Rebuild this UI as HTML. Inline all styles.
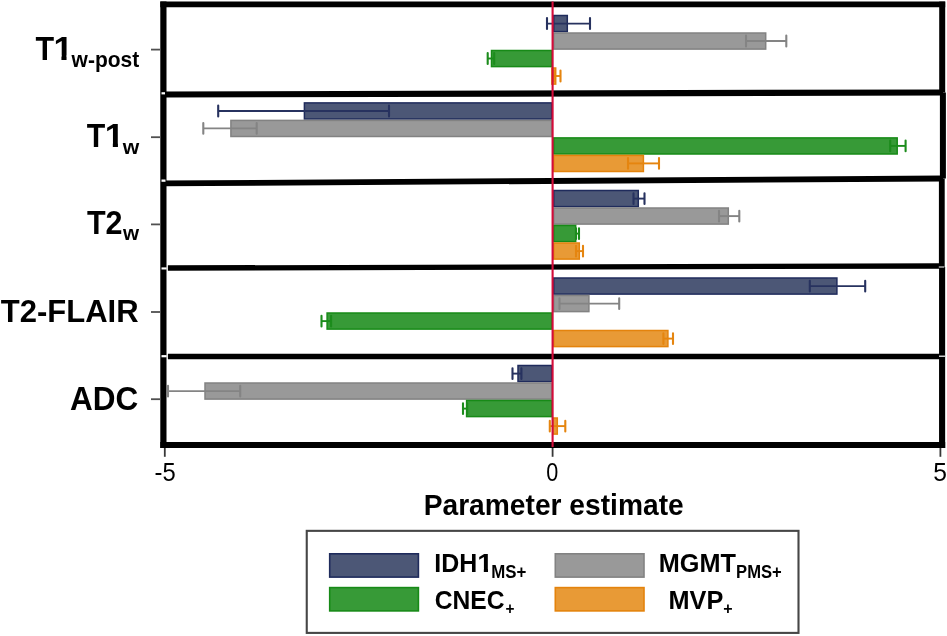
<!DOCTYPE html>
<html lang="en"><head><meta charset="utf-8"><title>Parameter estimate</title>
<style>
html,body{margin:0;padding:0;background:#fff;}
body{width:947px;height:636px;overflow:hidden;position:relative;font-family:"Liberation Sans",Arial,Helvetica,sans-serif;}
svg{position:absolute;left:0;top:0;display:block;}
text{font-family:"Liberation Sans",Arial,Helvetica,sans-serif;fill:#000;}
.b{font-weight:bold;}
</style></head><body>
<svg width="947" height="636" viewBox="0 0 947 636">
<rect x="0" y="0" width="947" height="636" fill="#fff"/>

<g>
<rect x="553.7" y="15.5" width="13.6" height="16.1" fill="#4c5776" stroke="#1f2b5c" stroke-width="1.5"/>
<path d="M547.0 23.6H590.0" stroke="#27325f" stroke-width="1.9" fill="none"/>
<path d="M547.0 18.1V29.0M590.0 18.1V29.0" stroke="#27325f" stroke-width="2.1" stroke-linecap="round" fill="none"/>
<rect x="553.7" y="33.0" width="212.0" height="16.1" fill="#999999" stroke="#828282" stroke-width="1.5"/>
<path d="M746.0 41.0H786.3" stroke="#848484" stroke-width="1.9" fill="none"/>
<path d="M746.0 35.6V46.4M786.3 35.6V46.4" stroke="#848484" stroke-width="2.1" stroke-linecap="round" fill="none"/>
<rect x="491.5" y="50.5" width="60.2" height="16.1" fill="#379a37" stroke="#178a17" stroke-width="1.5"/>
<path d="M487.7 58.5H494.2" stroke="#1c8c1c" stroke-width="1.9" fill="none"/>
<path d="M487.7 53.1V63.9M494.2 53.1V63.9" stroke="#1c8c1c" stroke-width="2.1" stroke-linecap="round" fill="none"/>
<rect x="551.9" y="68.0" width="3.8" height="16.1" fill="#e89a36" stroke="#e4830c" stroke-width="1.5"/>
<path d="M553.7 76.0H560.5" stroke="#e5850f" stroke-width="1.9" fill="none"/>
<path d="M553.7 70.6V81.5M560.5 70.6V81.5" stroke="#e5850f" stroke-width="2.1" stroke-linecap="round" fill="none"/>
<rect x="304.4" y="102.9" width="247.3" height="16.1" fill="#4c5776" stroke="#1f2b5c" stroke-width="1.5"/>
<path d="M218.2 111.0H389.0" stroke="#27325f" stroke-width="1.9" fill="none"/>
<path d="M218.2 105.5V116.4M389.0 105.5V116.4" stroke="#27325f" stroke-width="2.1" stroke-linecap="round" fill="none"/>
<rect x="230.9" y="120.4" width="320.8" height="16.1" fill="#999999" stroke="#828282" stroke-width="1.5"/>
<path d="M203.3 128.4H256.7" stroke="#848484" stroke-width="1.9" fill="none"/>
<path d="M203.3 123.0V133.8M256.7 123.0V133.8" stroke="#848484" stroke-width="2.1" stroke-linecap="round" fill="none"/>
<rect x="553.7" y="137.9" width="343.5" height="16.1" fill="#379a37" stroke="#178a17" stroke-width="1.5"/>
<path d="M890.2 145.9H905.6" stroke="#1c8c1c" stroke-width="1.9" fill="none"/>
<path d="M890.2 140.5V151.3M905.6 140.5V151.3" stroke="#1c8c1c" stroke-width="2.1" stroke-linecap="round" fill="none"/>
<rect x="553.7" y="155.4" width="89.7" height="16.1" fill="#e89a36" stroke="#e4830c" stroke-width="1.5"/>
<path d="M628.0 163.4H659.0" stroke="#e5850f" stroke-width="1.9" fill="none"/>
<path d="M628.0 158.0V168.8M659.0 158.0V168.8" stroke="#e5850f" stroke-width="2.1" stroke-linecap="round" fill="none"/>
<rect x="553.7" y="190.5" width="84.6" height="16.1" fill="#4c5776" stroke="#1f2b5c" stroke-width="1.5"/>
<path d="M633.5 198.6H644.5" stroke="#27325f" stroke-width="1.9" fill="none"/>
<path d="M633.5 193.2V204.0M644.5 193.2V204.0" stroke="#27325f" stroke-width="2.1" stroke-linecap="round" fill="none"/>
<rect x="553.7" y="208.0" width="174.6" height="16.1" fill="#999999" stroke="#828282" stroke-width="1.5"/>
<path d="M719.0 216.1H739.3" stroke="#848484" stroke-width="1.9" fill="none"/>
<path d="M719.0 210.7V221.5M739.3 210.7V221.5" stroke="#848484" stroke-width="2.1" stroke-linecap="round" fill="none"/>
<rect x="553.7" y="225.5" width="22.0" height="16.1" fill="#379a37" stroke="#178a17" stroke-width="1.5"/>
<path d="M576.0 233.6H579.0" stroke="#1c8c1c" stroke-width="1.9" fill="none"/>
<path d="M576.0 228.2V239.0M579.0 228.2V239.0" stroke="#1c8c1c" stroke-width="2.1" stroke-linecap="round" fill="none"/>
<rect x="553.7" y="243.0" width="25.6" height="16.1" fill="#e89a36" stroke="#e4830c" stroke-width="1.5"/>
<path d="M576.0 251.1H583.0" stroke="#e5850f" stroke-width="1.9" fill="none"/>
<path d="M576.0 245.7V256.4M583.0 245.7V256.4" stroke="#e5850f" stroke-width="2.1" stroke-linecap="round" fill="none"/>
<rect x="553.7" y="278.0" width="283.2" height="16.1" fill="#4c5776" stroke="#1f2b5c" stroke-width="1.5"/>
<path d="M809.8 286.1H865.2" stroke="#27325f" stroke-width="1.9" fill="none"/>
<path d="M809.8 280.7V291.4M865.2 280.7V291.4" stroke="#27325f" stroke-width="2.1" stroke-linecap="round" fill="none"/>
<rect x="553.7" y="295.5" width="35.2" height="16.1" fill="#999999" stroke="#828282" stroke-width="1.5"/>
<path d="M559.5 303.6H619.2" stroke="#848484" stroke-width="1.9" fill="none"/>
<path d="M559.5 298.2V308.9M619.2 298.2V308.9" stroke="#848484" stroke-width="2.1" stroke-linecap="round" fill="none"/>
<rect x="327.1" y="313.0" width="224.6" height="16.1" fill="#379a37" stroke="#178a17" stroke-width="1.5"/>
<path d="M321.5 321.1H331.1" stroke="#1c8c1c" stroke-width="1.9" fill="none"/>
<path d="M321.5 315.7V326.4M331.1 315.7V326.4" stroke="#1c8c1c" stroke-width="2.1" stroke-linecap="round" fill="none"/>
<rect x="553.7" y="330.5" width="114.2" height="16.1" fill="#e89a36" stroke="#e4830c" stroke-width="1.5"/>
<path d="M663.4 338.6H673.0" stroke="#e5850f" stroke-width="1.9" fill="none"/>
<path d="M663.4 333.2V343.9M673.0 333.2V343.9" stroke="#e5850f" stroke-width="2.1" stroke-linecap="round" fill="none"/>
<rect x="518.0" y="365.5" width="33.7" height="16.1" fill="#4c5776" stroke="#1f2b5c" stroke-width="1.5"/>
<path d="M512.5 373.6H521.4" stroke="#27325f" stroke-width="1.9" fill="none"/>
<path d="M512.5 368.2V378.9M521.4 368.2V378.9" stroke="#27325f" stroke-width="2.1" stroke-linecap="round" fill="none"/>
<rect x="205.0" y="383.0" width="346.7" height="16.1" fill="#999999" stroke="#828282" stroke-width="1.5"/>
<path d="M168.0 391.1H240.2" stroke="#848484" stroke-width="1.9" fill="none"/>
<path d="M168.0 385.7V396.4M240.2 385.7V396.4" stroke="#848484" stroke-width="2.1" stroke-linecap="round" fill="none"/>
<rect x="466.6" y="400.5" width="85.1" height="16.1" fill="#379a37" stroke="#178a17" stroke-width="1.5"/>
<path d="M463.0 408.6H467.2" stroke="#1c8c1c" stroke-width="1.9" fill="none"/>
<path d="M463.0 403.2V413.9M467.2 403.2V413.9" stroke="#1c8c1c" stroke-width="2.1" stroke-linecap="round" fill="none"/>
<rect x="552.7" y="418.0" width="4.6" height="16.1" fill="#e89a36" stroke="#e4830c" stroke-width="1.5"/>
<path d="M549.8 426.1H565.3" stroke="#e5850f" stroke-width="1.9" fill="none"/>
<path d="M549.8 420.7V431.4M565.3 420.7V431.4" stroke="#e5850f" stroke-width="2.1" stroke-linecap="round" fill="none"/>
</g>
<g stroke="#000" fill="none" stroke-linecap="butt">
<path d="M160.3 4.4H945.2" stroke-width="5.6"/>
<path d="M163.4 1.6V448.1" stroke-width="6.2"/>
<path d="M942.2 1.6V92.5" stroke-width="6"/>
<path d="M942.9 92.5V178.5" stroke-width="6"/>
<path d="M941.8 178.5V267" stroke-width="5.8"/>
<path d="M942.1 267V448.1" stroke-width="6.1"/>
<path d="M160.3 445H945.2" stroke-width="6.2"/>
<path d="M163 94.5L943 92.5" stroke-width="6.2"/>
<path d="M163 183.4L943 178.5" stroke-width="5.8"/>
<path d="M167.9 268L943 266" stroke-width="5.3"/>
<path d="M167.9 356.5H943" stroke-width="5.6"/>
</g>
<g fill="#fff"><rect x="161.5" y="92.2" width="3.5" height="2.2"/><rect x="161.5" y="179.5" width="4" height="2.3"/><rect x="161.5" y="267.4" width="5.2" height="2.1"/><rect x="161.5" y="355.1" width="5.2" height="2.2"/><rect x="938.8" y="266.5" width="5.5" height="1"/><rect x="939" y="355.6" width="6" height="1.2"/></g>
<path d="M552.6 1.5V447" stroke="#d40c3a" stroke-width="2.1" fill="none"/>
<g stroke="#505050" stroke-width="1.8" fill="none">
<path d="M151 49.6H160.5"/>
<path d="M151 137.2H160.5"/>
<path d="M151 224.4H160.5"/>
<path d="M151 312H160.5"/>
<path d="M151 399.2H160.5"/>
<path d="M164.8 448V456.8" stroke="#383838"/>
<path d="M552.6 448V456.8" stroke="#383838"/>
<path d="M940.4 448V456.8" stroke="#383838"/>
</g>
<defs><clipPath id="c32"><polygon points="0.00,-26.00 20.00,-26.00 20.00,-4.40 11.95,-4.40 11.95,1.00 7.30,1.00 7.30,-4.40 0.00,-4.40"/></clipPath><clipPath id="c26"><polygon points="0.00,-21.12 16.25,-21.12 16.25,-3.58 9.71,-3.58 9.71,0.81 5.93,0.81 5.93,-3.58 0.00,-3.58"/></clipPath></defs>
<rect x="306.75" y="530.85" width="491.75" height="102.05" fill="#fff" stroke="#464646" stroke-width="2.1"/>
<rect x="329.7" y="553.8" width="88.7" height="23.3" fill="#4c5776" stroke="#1f2b5c" stroke-width="1.6"/>
<rect x="329.7" y="587.6" width="88.7" height="23.3" fill="#379a37" stroke="#178a17" stroke-width="1.6"/>
<rect x="555.3" y="553.8" width="88.7" height="23.3" fill="#999999" stroke="#828282" stroke-width="1.6"/>
<rect x="555.3" y="587.6" width="88.7" height="23.3" fill="#e89a36" stroke="#e4830c" stroke-width="1.6"/>
<text class="b" font-size="32" transform="matrix(0.9526 0 0 1.0227 35.56 60.10)">T</text>
<text class="b" font-size="32" clip-path="url(#c32)" transform="matrix(1.1000 0 0 1.0300 53.40 60.10)">1</text>
<text class="b" font-size="22" transform="matrix(0.9546 0 0 1.0347 71.60 66.94)">w-post</text>
<text class="b" font-size="32" transform="matrix(0.9474 0 0 1.0318 86.76 147.00)">T</text>
<text class="b" font-size="32" clip-path="url(#c32)" transform="matrix(1.1000 0 0 1.0300 104.80 147.00)">1</text>
<text class="b" font-size="21" transform="matrix(1.0092 0 0 1.0000 122.70 153.60)">w</text>
<text class="b" font-size="32" transform="matrix(0.9538 0 0 1.0112 86.96 234.00)">T2</text>
<text class="b" font-size="21" transform="matrix(0.9846 0 0 1.0000 123.10 240.40)">w</text>
<text class="b" font-size="32" transform="matrix(0.9692 0 0 1.0067 0.76 322.00)">T2-FLAIR</text>
<text class="b" font-size="32" transform="matrix(0.9845 0 0 1.0356 70.06 410.24)">ADC</text>
<text font-size="26" transform="matrix(0.9157 0 0 1.0056 154.56 480.95)">-5</text>
<text font-size="26" transform="matrix(0.8320 0 0 0.9753 546.17 480.56)">0</text>
<text font-size="26" transform="matrix(0.9469 0 0 1.0000 933.15 480.85)">5</text>
<text class="b" font-size="28" transform="matrix(1.0067 0 0 1.0286 423.69 514.80)">Parameter estimate</text>
<text class="b" font-size="26" transform="matrix(0.9600 0 0 1.0028 434.32 572.20)">IDH</text>
<text class="b" font-size="26" clip-path="url(#c26)" transform="matrix(1.1000 0 0 1.0000 477.30 572.20)">1</text>
<text class="b" font-size="17" transform="matrix(0.9910 0 0 1.0333 491.16 577.54)">MS+</text>
<text class="b" font-size="26" transform="matrix(0.9477 0 0 0.9863 434.65 609.15)">CNEC</text>
<text class="b" font-size="16" transform="matrix(0.9625 0 0 0.9750 505.58 614.12)">+</text>
<text class="b" font-size="26" transform="matrix(0.9716 0 0 0.9973 658.80 572.35)">MGMT</text>
<text class="b" font-size="17" transform="matrix(0.9765 0 0 1.0333 736.08 577.54)">PMS+</text>
<text class="b" font-size="26" transform="matrix(0.9730 0 0 1.0028 668.50 609.10)">MVP</text>
<text class="b" font-size="16" transform="matrix(1.0000 0 0 1.0000 723.35 614.35)">+</text>
</svg>
</body></html>
